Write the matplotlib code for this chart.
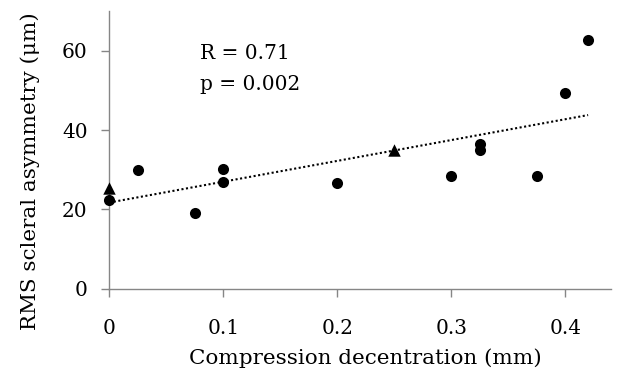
import matplotlib
matplotlib.use("Agg")
import matplotlib.pyplot as plt
import numpy as np

# Data
circle_x = [0.0, 0.025, 0.075, 0.1, 0.1, 0.2, 0.3, 0.325, 0.325, 0.375, 0.4, 0.42]
circle_y = [22.4, 29.9, 19.2, 30.3, 27.0, 26.6, 28.4, 36.6, 35.1, 28.4, 49.4, 62.7]
tri_x = [0.0, 0.25]
tri_y = [25.3, 35.0]
x_ticks = [0, 0.1, 0.2, 0.3, 0.4]
x_tick_labels = ["0", "0.1", "0.2", "0.3", "0.4"]
y_ticks = [0, 20, 40, 60]
stats_lines = ["R = 0.71", "p = 0.002"]

plt.rcParams['font.family'] = ['DejaVu Serif']

fig = plt.figure(figsize=(6.26, 3.75), dpi=100)
ax = fig.add_axes([0.1746, 0.2301, 0.9759 - 0.1746, 0.9703 - 0.2301])

ax.scatter(circle_x, circle_y, s=64, marker='o', color='black', zorder=3,
           linewidths=0, clip_on=False)
ax.scatter(tri_x, tri_y, s=80, marker='^', color='black', zorder=3,
           linewidths=0, clip_on=False)

all_x = np.array(circle_x + tri_x)
all_y = np.array(circle_y + tri_y)
slope, intercept = np.polyfit(all_x, all_y, 1)
xl = np.array([all_x.min(), all_x.max()])
ax.plot(xl, slope * xl + intercept, color='black', linewidth=1.5,
        linestyle=(0, (1, 1.2)), dash_capstyle='butt', zorder=2, clip_on=False)

ax.set_xlim(0, 0.44)
ax.set_ylim(0, 70)
ax.set_xticks(x_ticks)
ax.set_xticklabels(x_tick_labels)
ax.set_yticks(y_ticks)

for s in ['top', 'right']:
    ax.spines[s].set_visible(False)
for s in ['left', 'bottom']:
    ax.spines[s].set_color('#868686')
    ax.spines[s].set_linewidth(1.0)

ax.tick_params(axis='both', direction='out', length=5.5, width=1.0,
               color='#868686', labelsize=14.5, labelcolor='black')
ax.tick_params(axis='x', pad=16)
ax.tick_params(axis='y', pad=10)

ax.set_xlabel("Compression decentration (mm)", fontsize=15.4)
ax.set_ylabel("RMS scleral asymmetry (μm)", fontsize=15.4)
ax.xaxis.set_label_coords(0.51, -0.215)
ax.yaxis.set_label_coords(-0.138, 0.422)

ax.text(0.0796, 57.9, stats_lines[0], fontsize=14.5, va='baseline', ha='left')
ax.text(0.0796, 50.1, stats_lines[1], fontsize=14.5, va='baseline', ha='left')

fig.savefig("out.png", dpi=100)
